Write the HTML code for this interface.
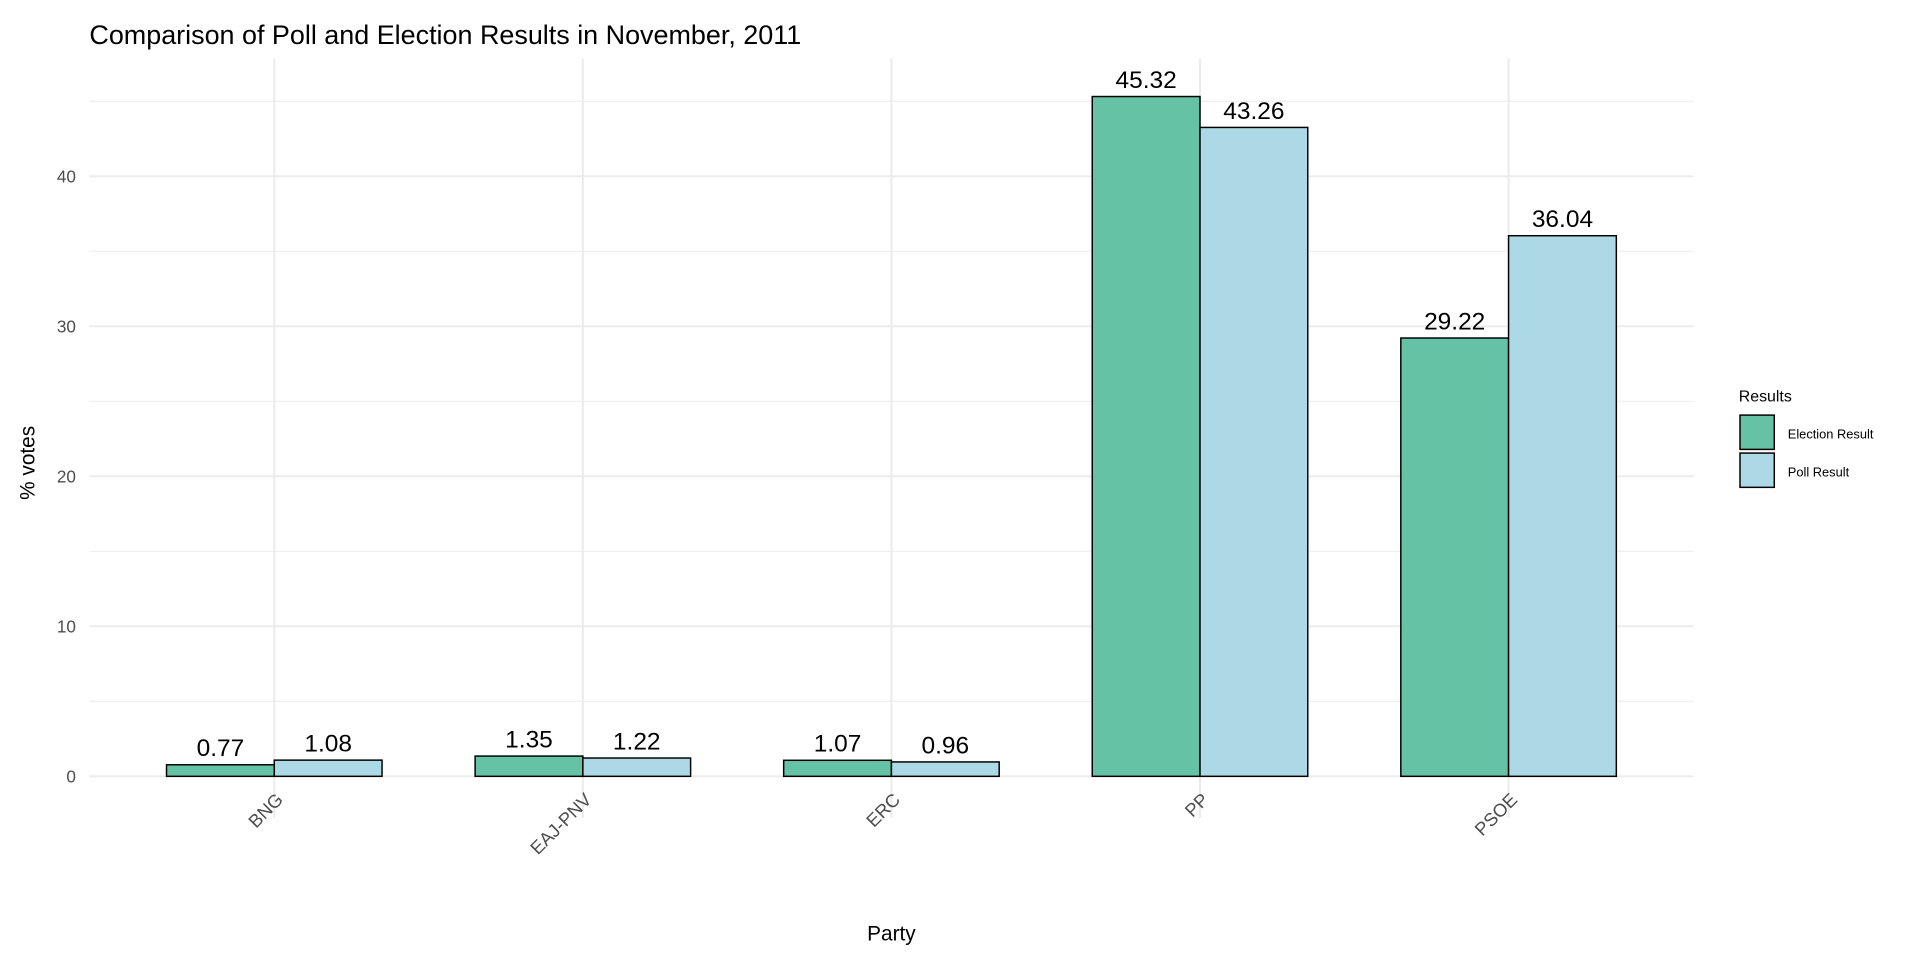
<!DOCTYPE html>
<html><head><meta charset="utf-8"><style>
html,body{margin:0;padding:0;background:#fff;}
svg{display:block;font-family:"Liberation Sans",Arial,sans-serif;}
</style></head><body>
<svg id="chart" width="1920" height="960" viewBox="0 0 1568 784" xmlns="http://www.w3.org/2000/svg">
<rect width="1568" height="784" fill="#fff"/>
<g id="grid"></g>
<g id="bars"></g>
<g id="labels"></g>
<text x="73" y="36" font-size="22" fill="#000">Comparison of Poll and Election Results in November, 2011</text>
<text x="728" y="768" font-size="17" text-anchor="middle">Party</text>
<text transform="translate(28,378) rotate(-90)" font-size="17" text-anchor="middle">% votes</text>
<g>
<text x="1420" y="328" font-size="13">Results</text>
<rect x="1421" y="339" width="28" height="28" fill="#66c2a5" stroke="#000" stroke-width="1.2"/>
<text x="1460" y="358" font-size="10.5">Election Result</text>
<rect x="1421" y="370" width="28" height="28" fill="#add8e6" stroke="#000" stroke-width="1.2"/>
<text x="1460" y="389" font-size="10.5">Poll Result</text>
</g>
</svg>
<script>
const categories=["BNG","EAJ-PNV","ERC","PP","PSOE"];
const electionValues=[0.77,1.35,1.07,45.32,29.22];
const pollValues=[1.08,1.22,0.96,43.26,36.04];
const yTicks=[0,10,20,30,40];
const yMinor=[5,15,25,35,45];
const NS="http://www.w3.org/2000/svg";
const x0=73,x1=1383,step=252,firstX=224;
function xPos(i){return firstX+i*step;}
function yPos(v){return 634-v*12.25;}
function mk(t,a,p){const e=document.createElementNS(NS,t);for(const k in a)e.setAttribute(k,a[k]);p.appendChild(e);return e;}
const grid=document.getElementById('grid'),bars=document.getElementById('bars'),labels=document.getElementById('labels');
yMinor.forEach(v=>{const l=mk('line',{x1:x0,x2:x1,y1:yPos(v),y2:yPos(v),stroke:'#f0f0f0','stroke-width':1},grid);

});
yTicks.forEach(v=>{const l=mk('line',{x1:x0,x2:x1,y1:yPos(v),y2:yPos(v),stroke:'#ebebeb','stroke-width':1.6},grid);


const t=mk('text',{x:62,y:yPos(v)+5,'text-anchor':'end','font-size':14,fill:'#4d4d4d'},labels);
t.textContent=v;

});
categories.forEach((c,i)=>{const x=xPos(i);
const l=mk('line',{x1:x,x2:x,y1:48,y2:668,stroke:'#ebebeb','stroke-width':1.6},grid);


const t=mk('text',{transform:`translate(${x+8},${654}) rotate(-45)`,'text-anchor':'end','font-size':15,fill:'#4d4d4d'},labels);
t.textContent=c;


[[electionValues[i],'#66c2a5',x-88,'election'],[pollValues[i],'#add8e6',x,'poll']].forEach(([v,col,bx,s])=>{
const r=mk('rect',{x:bx,y:yPos(v),width:88,height:yPos(0)-yPos(v),fill:col,stroke:'#000','stroke-width':1.2},bars);


const vt=mk('text',{x:bx+44,y:yPos(v)-7,'text-anchor':'middle','font-size':20,fill:'#000'},labels);
vt.textContent=v.toFixed(2);

});});
</script>
</body></html>
